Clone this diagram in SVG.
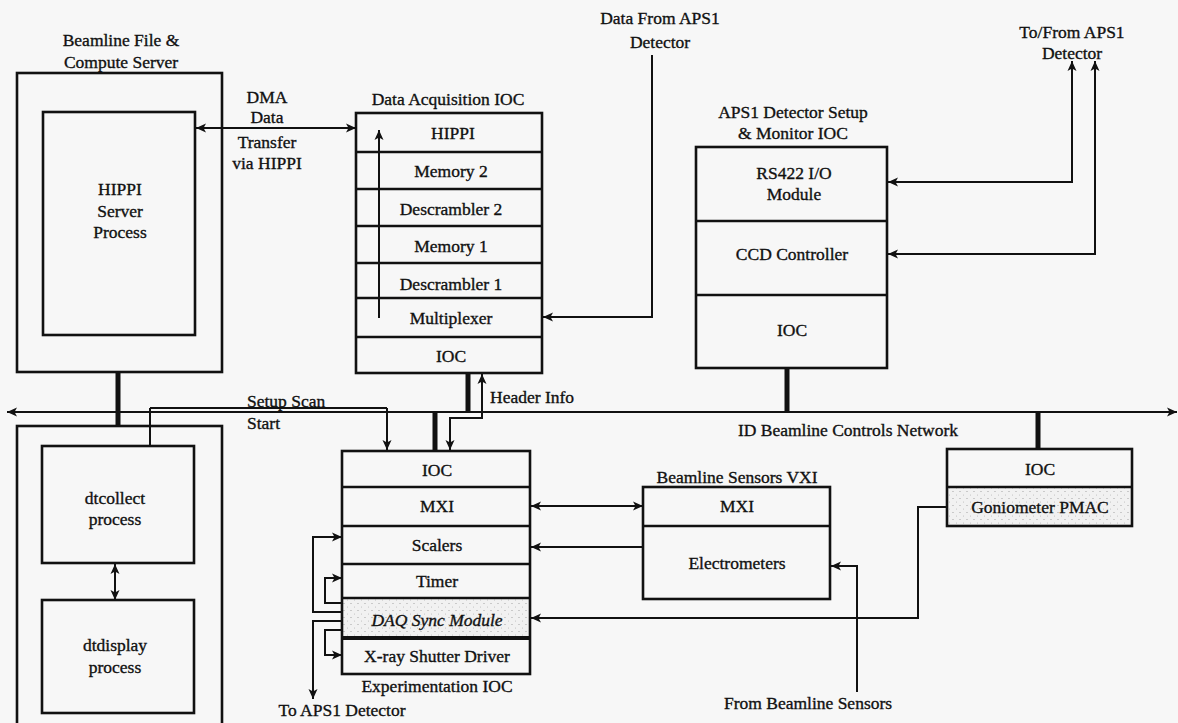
<svg xmlns="http://www.w3.org/2000/svg" width="1178" height="723" viewBox="0 0 1178 723">
  <style>
    .box { fill: none; stroke: #111; stroke-width: 2.6; }
    .dv { stroke: #111; stroke-width: 2.3; }
    .ln { fill: none; stroke: #111; stroke-width: 2; }
    .bus { fill: none; stroke: #111; stroke-width: 5; }
    text { font-family: "Liberation Serif", "Times New Roman", serif; font-size: 17.5px; fill: #111; stroke: #111; stroke-width: 0.35; text-anchor: middle; }
    .l { text-anchor: start; }
    .it { font-style: italic; }
  </style>
  <defs>
    <marker id="ah" viewBox="0 0 10 10" refX="10" refY="5" markerWidth="10" markerHeight="10" markerUnits="userSpaceOnUse" orient="auto-start-reverse">
      <path d="M0,0.5 L10,5 L0,9.5 L2.5,5 z" fill="#111"/>
    </marker>
    <pattern id="stip" width="7" height="7" patternUnits="userSpaceOnUse">
      <rect width="7" height="7" fill="#f1f1f1"/>
      <circle cx="1" cy="1.5" r="0.6" fill="#9a9a9a"/>
      <circle cx="4.5" cy="5" r="0.5" fill="#b5b5b5"/>
    </pattern>
  </defs>

  <rect width="1178" height="723" fill="#f7f7f7"/>

  <!-- Beamline file & compute server -->
  <g id="server">
    <rect class="box" x="17" y="73" width="205" height="299"/>
    <text x="121" y="46">Beamline File &amp;</text>
    <text x="121" y="68">Compute Server</text>
  </g>
  <g id="hippi-server">
    <rect class="box" x="43" y="112" width="152" height="223"/>
    <text x="120" y="195">HIPPI</text>
    <text x="120" y="217">Server</text>
    <text x="120" y="238">Process</text>
  </g>

  <!-- Workstation with dtcollect / dtdisplay -->
  <g id="workstation">
    <rect class="box" x="17" y="426" width="205" height="302"/>
  </g>
  <g id="dtcollect">
    <rect class="box" x="42" y="446" width="152" height="117"/>
    <text x="115" y="504">dtcollect</text>
    <text x="115" y="525">process</text>
  </g>
  <g id="dtdisplay">
    <rect class="box" x="42" y="600" width="152" height="113"/>
    <text x="115" y="651">dtdisplay</text>
    <text x="115" y="673">process</text>
  </g>

  <!-- Data acquisition IOC -->
  <g id="daq-ioc">
    <text x="448" y="105">Data Acquisition IOC</text>
    <rect class="box" x="356" y="113" width="186" height="260"/>
    <line class="dv" x1="356" y1="152" x2="542" y2="152"/>
    <line class="dv" x1="356" y1="189" x2="542" y2="189"/>
    <line class="dv" x1="356" y1="226" x2="542" y2="226"/>
    <line class="dv" x1="356" y1="263" x2="542" y2="263"/>
    <line class="dv" x1="356" y1="298" x2="542" y2="298"/>
    <line class="dv" x1="356" y1="337" x2="542" y2="337"/>
    <text x="453" y="139">HIPPI</text>
    <text x="451" y="177">Memory 2</text>
    <text x="451" y="215">Descrambler 2</text>
    <text x="451" y="252">Memory 1</text>
    <text x="451" y="290">Descrambler 1</text>
    <text x="451" y="324">Multiplexer</text>
    <text x="451" y="362">IOC</text>
  </g>

  <!-- APS1 detector setup & monitor IOC -->
  <g id="aps1-ioc">
    <text x="793" y="118">APS1 Detector Setup</text>
    <text x="793" y="139">&amp; Monitor IOC</text>
    <rect class="box" x="696" y="147" width="191" height="221"/>
    <line class="dv" x1="696" y1="221" x2="887" y2="221"/>
    <line class="dv" x1="696" y1="295" x2="887" y2="295"/>
    <text x="794" y="179">RS422 I/O</text>
    <text x="794" y="200">Module</text>
    <text x="792" y="260">CCD Controller</text>
    <text x="792" y="336">IOC</text>
  </g>

  <!-- Experimentation IOC -->
  <g id="exp-ioc">
    <rect x="342" y="598" width="188" height="40" fill="url(#stip)"/>
    <rect class="box" x="342" y="451" width="188" height="223"/>
    <line class="dv" x1="342" y1="487" x2="530" y2="487"/>
    <line class="dv" x1="342" y1="526" x2="530" y2="526"/>
    <line class="dv" x1="342" y1="564" x2="530" y2="564"/>
    <line class="dv" x1="342" y1="598" x2="530" y2="598"/>
    <line x1="342" y1="638" x2="530" y2="638" stroke="#111" stroke-width="4"/>
    <text x="437" y="476">IOC</text>
    <text x="437" y="512">MXI</text>
    <text x="437" y="551">Scalers</text>
    <text x="437" y="587">Timer</text>
    <text class="it" x="437" y="626">DAQ Sync Module</text>
    <text x="437" y="662">X-ray Shutter Driver</text>
    <text x="437" y="692">Experimentation IOC</text>
  </g>

  <!-- Beamline sensors VXI -->
  <g id="sensors-vxi">
    <text x="737" y="483">Beamline Sensors VXI</text>
    <rect class="box" x="643" y="487" width="187" height="112"/>
    <line class="dv" x1="643" y1="526" x2="830" y2="526"/>
    <text x="737" y="512">MXI</text>
    <text x="737" y="569">Electrometers</text>
  </g>

  <!-- Goniometer IOC -->
  <g id="gonio-ioc">
    <rect x="947" y="487" width="185" height="39" fill="url(#stip)"/>
    <rect class="box" x="947" y="449" width="185" height="77"/>
    <line class="dv" x1="947" y1="487" x2="1132" y2="487"/>
    <text x="1040" y="475">IOC</text>
    <text x="1040" y="513">Goniometer PMAC</text>
  </g>

  <!-- Connectors -->
  <g id="connectors">
    <!-- controls network -->
    <path class="ln" d="M7,412 H1177" stroke-width="2.5" marker-start="url(#ah)" marker-end="url(#ah)"/>
    <text x="848" y="436">ID Beamline Controls Network</text>

    <!-- network taps -->
    <path class="bus" d="M118,372 V427"/>
    <path class="bus" d="M468,373 V412"/>
    <path class="bus" d="M435,412 V451"/>
    <path class="bus" d="M787,368 V412"/>
    <path class="bus" d="M1038,412 V449"/>

    <!-- DMA transfer -->
    <path class="ln" d="M196,128 H356" marker-start="url(#ah)" marker-end="url(#ah)"/>
    <text x="267" y="103">DMA</text>
    <text x="267" y="123">Data</text>
    <text x="267" y="148">Transfer</text>
    <text x="267" y="169">via HIPPI</text>

    <!-- data path inside the DAQ IOC -->
    <path class="ln" d="M379,318 V130" marker-end="url(#ah)"/>

    <!-- detector data in -->
    <path class="ln" d="M652,55 V317 H543" marker-end="url(#ah)"/>
    <text x="660" y="24">Data From APS1</text>
    <text x="660" y="48">Detector</text>

    <!-- detector setup lines -->
    <path class="ln" d="M888,182 H1072 V61" marker-start="url(#ah)" marker-end="url(#ah)"/>
    <path class="ln" d="M888,254 H1095 V61" marker-start="url(#ah)" marker-end="url(#ah)"/>
    <text x="1072" y="38">To/From APS1</text>
    <text x="1072" y="59">Detector</text>

    <!-- scan setup / start -->
    <path class="ln" d="M150,446 V408"/>
    <path class="ln" d="M150,408 H387" stroke-width="3.5"/>
    <path class="ln" d="M387,408 V450" marker-end="url(#ah)"/>
    <text class="l" x="247" y="407">Setup Scan</text>
    <text class="l" x="247" y="429">Start</text>

    <!-- header info -->
    <path class="ln" d="M482,374 V418 H450 V450" marker-start="url(#ah)" marker-end="url(#ah)"/>
    <text class="l" x="490" y="403">Header Info</text>

    <!-- dtcollect to dtdisplay -->
    <path class="ln" d="M115,564 V600" marker-start="url(#ah)" marker-end="url(#ah)"/>

    <!-- MXI link -->
    <path class="ln" d="M531,506 H643" marker-start="url(#ah)" marker-end="url(#ah)"/>
    <!-- electrometers to scalers -->
    <path class="ln" d="M643,547 H531" marker-end="url(#ah)"/>
    <!-- beamline sensors in -->
    <path class="ln" d="M857,692 V566 H831" marker-end="url(#ah)"/>
    <text x="808" y="709">From Beamline Sensors</text>
    <!-- goniometer to DAQ sync -->
    <path class="ln" d="M947,507 H918 V618 H531" marker-end="url(#ah)"/>

    <!-- DAQ sync module outputs -->
    <path class="ln" d="M342,612 H313 V537 H342" marker-end="url(#ah)"/>
    <path class="ln" d="M342,603 H325 V578 H342" marker-end="url(#ah)"/>
    <path class="ln" d="M342,630 H325 V655 H342" marker-end="url(#ah)"/>
    <path class="ln" d="M342,621 H313 V699" marker-end="url(#ah)"/>
    <text x="342" y="716">To APS1 Detector</text>
  </g>
</svg>
